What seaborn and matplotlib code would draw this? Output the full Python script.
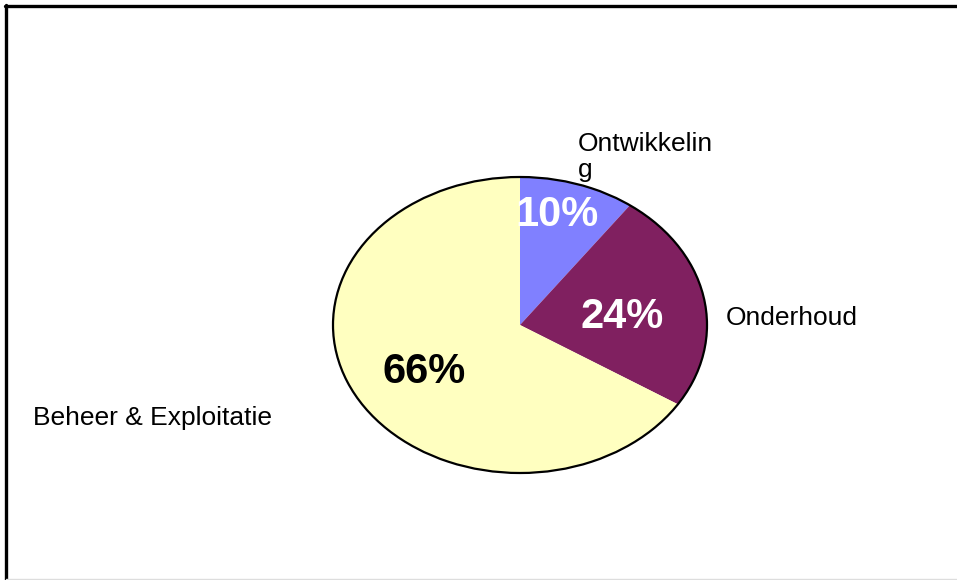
import matplotlib
matplotlib.use("Agg")
import matplotlib.pyplot as plt
import seaborn as sns
from matplotlib.lines import Line2D

categories = ["Ontwikkeling", "Onderhoud", "Beheer & Exploitatie"]
values = [10, 24, 66]
pct_labels = ["10%", "24%", "66%"]
colors = ["#8080FF", "#802060", "#FFFFC0"]
pct_colors = ["white", "white", "black"]

sns.set_theme(style="white")
plt.rcParams["font.family"] = ["Liberation Sans", "DejaVu Sans"]

W, H = 957, 580
fig = plt.figure(figsize=(W / 100, H / 100), dpi=100)
fig.patch.set_facecolor("white")

# pie axes placed so that the ellipse spans x 333..707, y 177..473 (pixels)
ax = fig.add_axes([333 / W, (H - 473) / H, 374 / W, 296 / H])
wedges, _ = ax.pie(values, colors=colors, startangle=90, counterclock=False,
                   radius=1, wedgeprops=dict(linewidth=0))
ax.pie([1], colors=["none"], radius=1, startangle=90,
       wedgeprops=dict(edgecolor="black", linewidth=1.6, facecolor="none"))
ax.set_aspect("auto")
ax.set_xlim(-1, 1)
ax.set_ylim(-1, 1)
ax.axis("off")

# percentage labels
pct_pos = [(0.198, 0.743), (0.545, 0.054), (-0.513, -0.318)]
for (x, y), t, c in zip(pct_pos, pct_labels, pct_colors):
    ax.text(x, y, t, ha="center", va="center", fontsize=30, fontweight="bold",
            color=c, clip_on=False)

# category labels
ax.text(0.310, 1.135, "Ontwikkelin\ng", ha="left", va="center", fontsize=19,
        color="black", linespacing=1.12, clip_on=False)
ax.text(1.102, 0.047, categories[1], ha="left", va="center", fontsize=19,
        color="black", clip_on=False)
ax.text(-2.604, -0.628, categories[2], ha="left", va="center", fontsize=19,
        color="black", clip_on=False)

# frame (top and left thick lines, faint bottom line)
fig.add_artist(Line2D([5 / W, 1], [1 - 5.5 / H, 1 - 5.5 / H], color="black",
                      linewidth=2.4, transform=fig.transFigure))
fig.add_artist(Line2D([6 / W, 6 / W], [0, 1 - 4.5 / H], color="black",
                      linewidth=2.4, transform=fig.transFigure))
fig.add_artist(Line2D([6 / W, 1], [1.5 / H, 1.5 / H], color="#DDDDDD",
                      linewidth=1, transform=fig.transFigure))

fig.savefig("out.png", dpi=100)
